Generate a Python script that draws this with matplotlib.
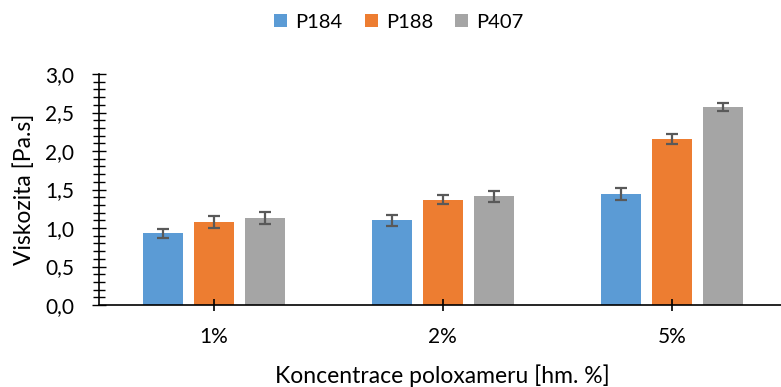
import matplotlib
matplotlib.use("Agg")
import matplotlib.pyplot as plt
import numpy as np
from matplotlib.ticker import FuncFormatter, MultipleLocator

plt.rcParams['font.family'] = ['Lato', 'DejaVu Sans']

categories = ["1%", "2%", "5%"]
seriesnames = ["P184", "P188", "P407"]
colorarr = ["#5B9BD5", "#ED7D31", "#A5A5A5"]

p184 = [0.93, 1.10, 1.44]
p188 = [1.08, 1.37, 2.16]
p407 = [1.13, 1.41, 2.575]
p184_err = [0.063, 0.07, 0.082]
p188_err = [0.08, 0.063, 0.063]
p407_err = [0.08, 0.074, 0.05]

values = [p184, p188, p407]
errors = [p184_err, p188_err, p407_err]

fig = plt.figure(figsize=(7.81, 3.87), dpi=100)
ax = fig.add_axes([99/781, 82/387, 687.6/781, 231/387])

x = np.arange(len(categories))
step = 0.2227
width = 0.1747
for i, name in enumerate(seriesnames):
    ax.bar(x + (i-1)*step, values[i], width, color=colorarr[i], label=name,
           yerr=errors[i], error_kw=dict(ecolor="#595959", elinewidth=1.6, capsize=4.3, capthick=1.6))

ax.set_xlim(-0.5, 2.5)
ax.set_ylim(0, 3.0)
ax.set_xticks(x)
ax.set_xticklabels(categories, fontsize=15)
ax.yaxis.set_major_locator(MultipleLocator(0.5))
ax.yaxis.set_minor_locator(MultipleLocator(0.1))
ax.yaxis.set_major_formatter(FuncFormatter(lambda v, p: f"{v:.1f}".replace(".", ",")))
ax.tick_params(axis='y', which='major', direction='inout', length=10, width=1, labelsize=15, pad=13)
ax.tick_params(axis='y', which='minor', direction='inout', length=9, width=1)
ax.tick_params(axis='x', which='major', direction='inout', length=8, width=1.2, pad=12)
for s in ['top', 'right']:
    ax.spines[s].set_visible(False)
ax.spines['left'].set_linewidth(1.2)
ax.spines['bottom'].set_linewidth(1.2)

ax.set_ylabel("Viskozita [Pa.s]", fontsize=16.5, labelpad=7)
ax.set_xlabel("Koncentrace poloxameru [hm. %]", fontsize=16.5, labelpad=12)

fig.legend(loc="center", bbox_to_anchor=(399/781, 1-22/387), ncol=3, frameon=False,
           fontsize=14.5, handlelength=0.65, handleheight=0.65, columnspacing=1.1, handletextpad=0.4)

fig.savefig("out.png", dpi=100)
